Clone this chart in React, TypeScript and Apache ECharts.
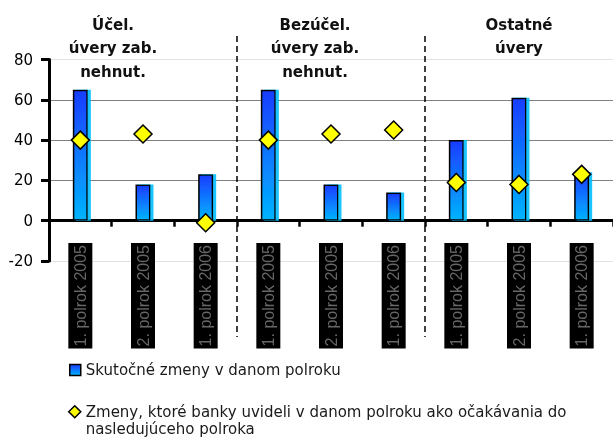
import React, { useEffect, useRef } from 'react';
import * as echarts from 'echarts';

const categories = [
  '1. polrok 2005', '2. polrok 2005', '1. polrok 2006',
  '1. polrok 2005', '2. polrok 2005', '1. polrok 2006',
  '1. polrok 2005', '2. polrok 2005', '1. polrok 2006',
];
const actualChanges = [65, 18, 23, 65, 18, 14, 40, 61, 24];
const expectedChanges = [40, 43, -1, 40, 43, 45, 19, 18, 23];
const sectionTitles = ['Účel.\núvery zab.\nnehnut.', 'Bezúčel.\núvery zab.\nnehnut.', 'Ostatné\núvery'];
const seriesNames = [
  'Skutočné zmeny v danom polroku',
  'Zmeny, ktoré banky uvideli v danom polroku ako očakávania do nasledujúceho polroka',
];
const yMin = -20;
const yMax = 80;
const yInterval = 20;

export default function App() {
  const ref = useRef<HTMLDivElement>(null);
  useEffect(() => {
    const chart = echarts.init(ref.current as HTMLDivElement, null, { renderer: 'svg' });
    const legendText = { fontFamily: 'DejaVu Sans', fontSize: 15, color: '#1a1a1a' };
    chart.setOption({
      animation: false,
      grid: { left: 49, right: -10, top: 59.5, bottom: 179 },
      xAxis: {
        type: 'category',
        data: categories,
        axisLine: { onZero: true, lineStyle: { color: '#000', width: 3 } },
        axisTick: { show: true, length: 6, interval: 0, alignWithLabel: false, lineStyle: { color: '#000', width: 2.5 } },
        axisLabel: {
          interval: 0,
          rotate: 90,
          margin: -18,
          fontFamily: 'Liberation Sans',
          fontSize: 16,
          color: '#666666',
          backgroundColor: '#000',
          padding: [2, 2, 2, 2],
          lineHeight: 20,
        },
        splitLine: { show: false },
      },
      yAxis: {
        type: 'value',
        min: yMin,
        max: yMax,
        interval: yInterval,
        axisLine: { show: true, onZero: false, lineStyle: { color: '#000', width: 3 } },
        axisTick: { show: true, length: 8, lineStyle: { color: '#000', width: 3 } },
        axisLabel: { margin: 16, fontFamily: 'DejaVu Sans', fontSize: 15, color: '#000' },
        splitLine: {
          show: true,
          lineStyle: { color: ['#e2e2e2', '#808080', '#808080', '#808080', '#808080', '#e2e2e2'], width: 1.2 },
        },
      },
      legend: [
        {
          data: [{ name: seriesNames[0], icon: 'rect' }],
          left: 64,
          top: 356.5,
          orient: 'vertical',
          itemWidth: 11,
          itemHeight: 11,
          itemStyle: { borderColor: '#000', borderWidth: 1.5 },
          textStyle: { ...legendText, lineHeight: 17 },
          selectedMode: false,
        },
        {
          data: [{ name: seriesNames[1], icon: 'path://M6,2.5L12,8.5L6,14.5L0,8.5Z M0,0 M0,34' }],
          left: 63,
          top: 397.5,
          orient: 'vertical',
          itemWidth: 12,
          itemHeight: 34,
          itemStyle: { color: '#ffff00', borderColor: '#000', borderWidth: 1.5 },
          formatter: (n: string) => n.replace(' do ', ' do\n'),
          textStyle: { ...legendText, lineHeight: 17 },
          selectedMode: false,
        },
      ],
      series: [
        {
          name: seriesNames[0],
          type: 'bar',
          data: actualChanges,
          barWidth: 15,
          itemStyle: {
            color: new echarts.graphic.LinearGradient(0, 0, 0, 1, [
              { offset: 0, color: '#1a3dff' },
              { offset: 1, color: '#00b4ff' },
            ]),
            borderColor: '#000',
            borderWidth: 1.5,
            shadowColor: 'rgba(0,190,255,0.9)',
            shadowOffsetX: 3,
            shadowOffsetY: 0,
            shadowBlur: 1,
          },
        },
        {
          name: seriesNames[1],
          type: 'scatter',
          data: expectedChanges,
          symbol: 'diamond',
          symbolSize: [18, 18],
          itemStyle: { color: '#ffff00', borderColor: '#000', borderWidth: 1.5, opacity: 1 },
          z: 3,
        },
      ],
    });

    const px = (i: number) => chart.convertToPixel({ xAxisIndex: 0 }, i) as number;
    const b1 = (px(2) + px(3)) / 2;
    const b2 = (px(5) + px(6)) / 2;
    const titleX = [113, 315, 519];
    const dashLine = (x: number) => ({
      type: 'line',
      shape: { x1: x, y1: 36, x2: x, y2: 337 },
      style: { stroke: '#000', lineWidth: 1.5, lineDash: [6, 4] },
      z: 10,
    });
    chart.setOption({
      graphic: [
        dashLine(b1),
        dashLine(b2),
        ...sectionTitles.map((t, i) => ({
          type: 'text',
          x: titleX[i],
          y: 13,
          style: {
            text: t,
            fontFamily: 'DejaVu Sans',
            fontWeight: 'bold',
            fontSize: 15,
            lineHeight: 23.5,
            fill: '#111',
            align: 'center',
            verticalAlign: 'top',
          },
          z: 10,
        })),
      ],
    });
    return () => chart.dispose();
  }, []);
  return <div ref={ref} style={{ position: 'fixed', left: 0, top: 0, width: 613, height: 440 }} />;
}
